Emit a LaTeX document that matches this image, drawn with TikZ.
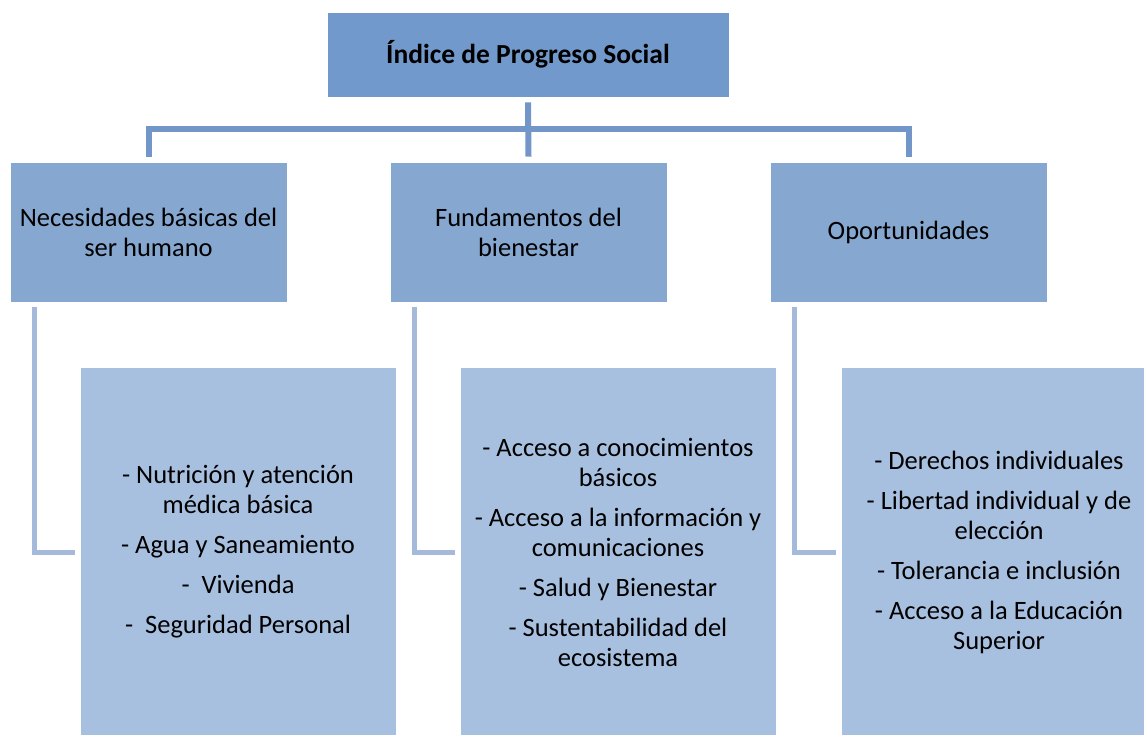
\documentclass[tikz,border=0pt]{standalone}
\usepackage{fontspec}
\setmainfont{Carlito}
\definecolor{topc}{HTML}{7199CB}
\definecolor{midc}{HTML}{85A7D0}
\definecolor{lowc}{HTML}{A8C0DF}
\definecolor{connc}{HTML}{7396C8}
\definecolor{brkc}{HTML}{A5B9DB}
\begin{document}
\begin{tikzpicture}[x=1pt,y=-1pt,
  topbox/.style={fill=topc, draw=white, line width=0.8pt, minimum width=402pt, minimum height=85pt, inner sep=0pt,
     font=\fontsize{27.5}{32}\selectfont\bfseries},
  midbox/.style={fill=midc, draw=white, line width=0.8pt, minimum width=277pt, minimum height=140pt, inner sep=0pt,
     align=center, font=\fontsize{26.5}{30}\selectfont},
  lowbox/.style={fill=lowc, draw=white, line width=0.8pt, minimum width=316pt, minimum height=370pt, inner sep=0pt,
     align=center, font=\fontsize{26.5}{30}\selectfont},
  conn/.style={draw=connc, line width=6pt},
  brk/.style={draw=brkc, line width=5pt}]
\useasboundingbox (0,0) rectangle (1144,735);
\clip (0,0) rectangle (1144,735);
\node[topbox] (top) at (528,54.5) {Índice de Progreso Social};
\node[midbox] (b1) at (148.5,232) {Necesidades básicas del\\ser humano};
\node[midbox] (b2) at (528.5,232) {Fundamentos del\\bienestar};
\node[midbox] (b3) at (908.5,232) {Oportunidades};
\node[lowbox] (c1) at (238,552) {- Nutrición y atención\\médica básica\\[10pt]- Agua y Saneamiento\\[10pt]-\ \ Vivienda\\[10pt]-\ \ Seguridad Personal};
\node[lowbox] (c2) at (618,552) {- Acceso a conocimientos\\básicos\\[10pt]- Acceso a la información y\\comunicaciones\\[10pt]- Salud y Bienestar\\[10pt]- Sustentabilidad del\\ecosistema};
\node[lowbox] (c3) at (999,552) {- Derechos individuales\\[10pt]- Libertad individual y de\\elección\\[10pt]- Tolerancia e inclusión\\[10pt]- Acceso a la Educación\\Superior};
\coordinate (hub) at (528.5,129);
\draw[conn] ([yshift=-5pt]top.south) -- ([yshift=5pt]b2.north);
\draw[conn] ([yshift=5pt]b1.north) |- (hub) -| ([yshift=5pt]b3.north);
\draw[brk] ([xshift=25pt,yshift=-5pt]b1.south west) |- ([xshift=-5pt]c1.west);
\draw[brk] ([xshift=25pt,yshift=-5pt]b2.south west) |- ([xshift=-5pt]c2.west);
\draw[brk] ([xshift=25pt,yshift=-5pt]b3.south west) |- ([xshift=-5pt]c3.west);
\end{tikzpicture}
\end{document}
